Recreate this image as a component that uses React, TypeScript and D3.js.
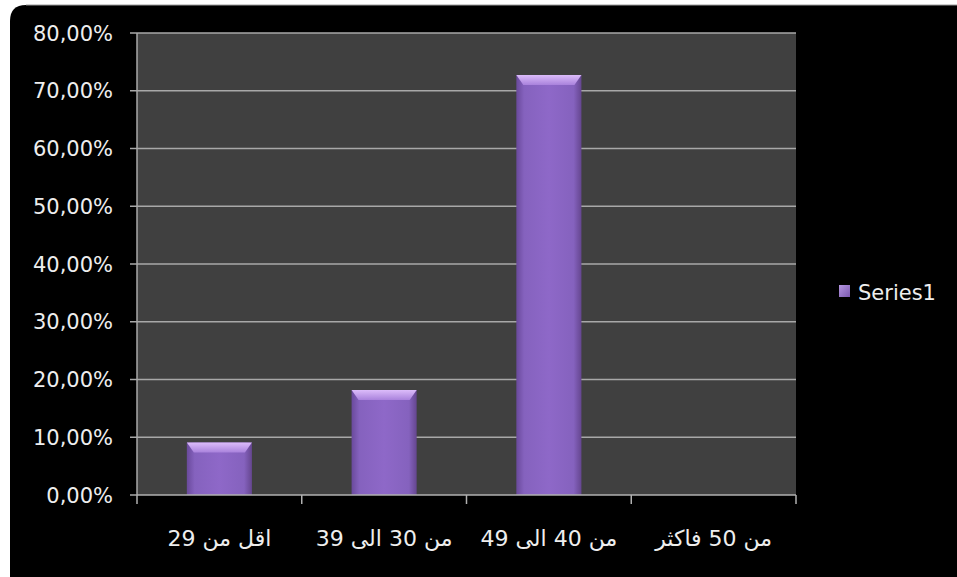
import React from "react";
import * as d3 from "d3";

const categories = ["اقل من 29", "من 30 الى 39", "من 40 الى 49", "من 50 فاكثر"];
const values = [0.0909, 0.1818, 0.7273, 0];
const yTicks = [0, 0.1, 0.2, 0.3, 0.4, 0.5, 0.6, 0.7, 0.8];
const seriesName = "Series1";

const W = 957;
const H = 577;
const plot = { left: 137, right: 796, top: 33, bottom: 495 };

export default function App() {
  const x = d3.scaleBand<string>().domain(categories).range([plot.left, plot.right]).padding(0);
  const y = d3.scaleLinear().domain([0, 0.8]).range([plot.bottom, plot.top]);
  const fmt = (v: number) => d3.format(".2f")(v * 100).replace(".", ",") + "%";
  const barW = x.bandwidth() * 0.395;
  const font = "'DejaVu Sans', 'Liberation Sans', sans-serif";

  return (
    <svg width={W} height={H} style={{ position: "absolute", left: 0, top: 0, display: "block" }}>
      <defs>
        <linearGradient id="barGrad" x1="0" x2="1" y1="0" y2="0">
          <stop offset="0" stopColor="#6a4a9c" />
          <stop offset="0.12" stopColor="#8562be" />
          <stop offset="0.5" stopColor="#8e68c8" />
          <stop offset="0.88" stopColor="#8562be" />
          <stop offset="1" stopColor="#65468f" />
        </linearGradient>
        <linearGradient id="capGrad" x1="0" x2="0" y1="0" y2="1">
          <stop offset="0" stopColor="#dcbcfa" />
          <stop offset="1" stopColor="#a982dc" />
        </linearGradient>
        <linearGradient id="legGrad" x1="0" x2="1" y1="0" y2="1">
          <stop offset="0" stopColor="#b596e0" />
          <stop offset="1" stopColor="#7a58ae" />
        </linearGradient>
      </defs>
      <rect x={0} y={0} width={W} height={H} fill="#ffffff" />
      <path
        d={`M10,${5 + 16} Q10,5 ${10 + 16},5 L${W},5 L${W},${H} L10,${H} Z`}
        fill="#000000"
      />
      <line x1={26} x2={W} y1={5} y2={5} stroke="#9a9a9a" strokeWidth={1} />
      <rect x={plot.left} y={plot.top} width={plot.right - plot.left} height={plot.bottom - plot.top} fill="#404040" />
      {yTicks.map((t) => (
        <g key={t}>
          {t > 0 && (
            <line x1={plot.left} x2={plot.right} y1={y(t)} y2={y(t)} stroke="#a8a8a8" strokeWidth={1.5} />
          )}
          <line x1={plot.left - 7} x2={plot.left} y1={y(t)} y2={y(t)} stroke="#a8a8a8" strokeWidth={1.5} />
          <text
            x={113}
            y={y(t)}
            dy="0.36em"
            textAnchor="end"
            fill="#eeeeee"
            fontFamily={font}
            fontSize={21}
          >
            {fmt(t)}
          </text>
        </g>
      ))}
      {categories.map((c, i) => {
        const bx = (x(c) as number) + x.bandwidth() / 2 - barW / 2;
        const v = values[i];
        const top = y(v);
        const h = plot.bottom - top;
        return (
          <g key={c}>
            {v > 0 && (
              <g>
                <rect x={bx} y={top} width={barW} height={h} fill="url(#barGrad)" />
                <path
                  d={`M${bx},${top} L${bx + barW},${top} L${bx + barW - 7},${top + 10} L${bx + 7},${top + 10} Z`}
                  fill="url(#capGrad)"
                />
              </g>
            )}
          </g>
        );
      })}
      <line x1={plot.left} x2={plot.left} y1={plot.top} y2={plot.bottom} stroke="#a8a8a8" strokeWidth={1.5} />
      <line x1={plot.left} x2={plot.right} y1={plot.bottom} y2={plot.bottom} stroke="#b0b0b0" strokeWidth={1.5} />
      {categories.map((c, i) => (
        <line
          key={"t" + i}
          x1={x(c) as number}
          x2={x(c) as number}
          y1={plot.bottom}
          y2={plot.bottom + 9}
          stroke="#b0b0b0"
          strokeWidth={1.5}
        />
      ))}
      <line x1={plot.right} x2={plot.right} y1={plot.bottom} y2={plot.bottom + 9} stroke="#b0b0b0" strokeWidth={1.5} />
      {categories.map((c) => (
        <text
          key={"l" + c}
          x={(x(c) as number) + x.bandwidth() / 2}
          y={546}
          textAnchor="middle"
          fill="#eeeeee"
          fontFamily={font}
          fontSize={22}
        >
          {c}
        </text>
      ))}
      <rect x={839} y={285} width={11} height={12} fill="url(#legGrad)" />
      <text x={858} y={292} dy="0.36em" fill="#eeeeee" fontFamily={font} fontSize={21}>
        {seriesName}
      </text>
    </svg>
  );
}
